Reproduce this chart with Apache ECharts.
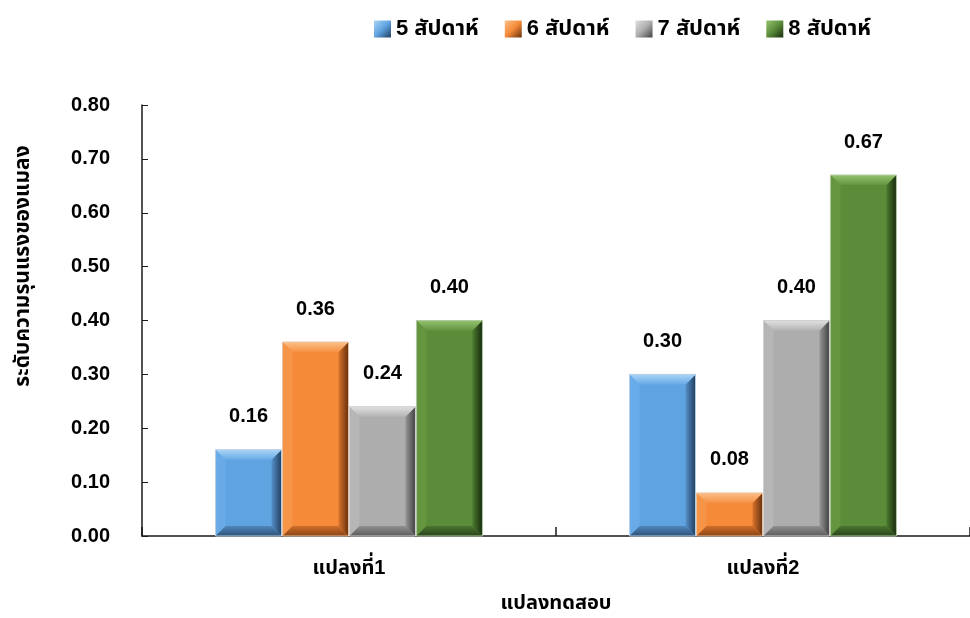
<!DOCTYPE html>
<html>
<head>
<meta charset="utf-8">
<script src="https://cdn.jsdelivr.net/npm/echarts@6/dist/echarts.min.js"></script>
<style>
  html, body { margin: 0; padding: 0; background: #fff; }
  #chart { width: 970px; height: 618px; }
</style>
</head>
<body>
<div id="chart"></div>
<script>
// Insect damage level by week, two test plots
const categories = ['แปลงที่1', 'แปลงที่2'];
const seriesNames = ['5 สัปดาห์', '6 สัปดาห์', '7 สัปดาห์', '8 สัปดาห์'];
const week5 = [0.16, 0.30];
const week6 = [0.36, 0.08];
const week7 = [0.24, 0.40];
const week8 = [0.40, 0.67];
const yTicks = [0, 0.1, 0.2, 0.3, 0.4, 0.5, 0.6, 0.7, 0.8];

const seriesValues = [week5, week6, week7, week8];
const FONT = '"Liberation Sans", Tahoma, "Noto Sans Thai", "Noto Sans", sans-serif';

// Bevelled bar palettes: face, top, left, right edge (inner, outer), bottom
const palettes = [
  { face: '#5fa3e0', top: ['#a9d4f7', '#68aae6'], left: '#69abe8', right: ['#5590c8', '#213f60'], bottom: ['#4f86ba', '#2e5378'], line: '#b9cfe3' },
  { face: '#f58a38', top: ['#fcc08a', '#f69144'], left: '#f69448', right: ['#d9732c', '#66310d'], bottom: ['#cf6e2a', '#8a4515'], line: '#e8c4a6' },
  { face: '#adadad', top: ['#e0e0e0', '#b4b4b4'], left: '#b6b6b6', right: ['#969696', '#414141'], bottom: ['#909090', '#5c5c5c'], line: '#d0d0d0' },
  { face: '#5b8c3a', top: ['#94c36e', '#62943f'], left: '#64953f', right: ['#4c7a2f', '#172a0d'], bottom: ['#4a7530', '#2a451a'], line: '#b3c8a4' }
];

const CAT_GAP = 0.353;
const N = seriesNames.length;
const BEVEL = 10;

function renderBar(si) {
  const pal = palettes[si];
  return function (params, api) {
    const cat = api.value(0);
    const val = api.value(1);
    const band = api.size([1, 0])[0];
    const groupW = band * (1 - CAT_GAP);
    const barW = groupW / N;
    const center = api.coord([cat, 0]);
    const topPt = api.coord([cat, val]);
    const x0 = center[0] - groupW / 2 + si * barW + 0.5;
    const x1 = x0 + barW - 1;
    const y0 = topPt[1];
    const y1 = center[1];
    const b = Math.min(BEVEL, (y1 - y0) / 3);
    const poly = (pts, fill) => ({ type: 'polygon', shape: { points: pts }, style: { fill: fill } });
    const vgrad = (c) => new echarts.graphic.LinearGradient(0, 0, 0, 1, [{ offset: 0, color: c[0] }, { offset: 1, color: c[1] }]);
    const hgrad = (c) => new echarts.graphic.LinearGradient(0, 0, 1, 0, [{ offset: 0, color: c[0] }, { offset: 1, color: c[1] }]);
    return {
      type: 'group',
      children: [
        { type: 'rect', shape: { x: x0, y: y0, width: x1 - x0, height: y1 - y0 }, style: { fill: pal.face } },
        poly([[x0, y0], [x0 + b, y0 + b], [x0 + b, y1 - b], [x0, y1]], pal.left),
        poly([[x1, y0], [x1, y1], [x1 - b, y1 - b], [x1 - b, y0 + b]], hgrad(pal.right)),
        poly([[x0, y1], [x0 + b, y1 - b], [x1 - b, y1 - b], [x1, y1]], vgrad(pal.bottom)),
        poly([[x0, y0], [x1, y0], [x1 - b, y0 + b], [x0 + b, y0 + b]], vgrad(pal.top)),
        { type: 'rect', shape: { x: x0, y: y0, width: x1 - x0, height: y1 - y0 }, style: { fill: null, stroke: pal.line, lineWidth: 1 } },
        {
          type: 'text', x: (x0 + x1) / 2, y: y0 - 33,
          style: { text: val.toFixed(2), align: 'center', verticalAlign: 'middle', font: 'bold 20px ' + FONT, fill: '#000' }
        }
      ]
    };
  };
}

const legendIcon = (pal) => new echarts.graphic.LinearGradient(0, 0, 1, 1, [
  { offset: 0, color: pal.top[0] }, { offset: 0.5, color: pal.face }, { offset: 1, color: pal.right[1] }
]);

const chart = echarts.init(document.getElementById('chart'), null, { renderer: 'canvas' });
chart.setOption({
  animation: false,
  backgroundColor: '#fff',
  textStyle: { fontFamily: FONT },
  legend: {
    top: 13, left: 369,
    itemWidth: 17, itemHeight: 17, itemGap: 26,
    textStyle: { fontSize: 22, fontWeight: 'bold', color: '#000', fontFamily: FONT },
    data: seriesNames.map((n, i) => ({ name: n, icon: 'rect', itemStyle: { color: legendIcon(palettes[i]) } }))
  },
  grid: { left: 142, right: -6, top: 105, bottom: 81, containLabel: false },
  xAxis: {
    type: 'category',
    data: categories,
    name: 'แปลงทดสอบ',
    nameLocation: 'middle',
    nameGap: 57,
    nameTextStyle: { fontSize: 20, fontWeight: 'bold', color: '#000', fontFamily: FONT },
    axisLine: { lineStyle: { color: '#1a1a1a', width: 1.5 } },
    axisTick: { show: true, inside: true, length: 9, alignWithLabel: false, lineStyle: { color: '#1a1a1a', width: 1.5 } },
    axisLabel: { margin: 22, fontSize: 20, fontWeight: 'bold', color: '#000', fontFamily: FONT }
  },
  yAxis: {
    type: 'value',
    min: 0, max: 0.8, interval: 0.1,
    splitLine: { show: false },
    axisLine: { show: true, lineStyle: { color: '#1a1a1a', width: 1.5 } },
    axisTick: { show: true, inside: true, length: 6, lineStyle: { color: '#1a1a1a' } },
    axisLabel: {
      margin: 32, fontSize: 20, fontWeight: 'bold', color: '#000', fontFamily: FONT,
      formatter: (v) => {
        const t = yTicks.find((k) => Math.abs(k - v) < 1e-9);
        return (t === undefined ? v : t).toFixed(2);
      }
    }
  },
  graphic: [{
    type: 'text', x: 23, y: 266, rotation: Math.PI / 2,
    style: { text: 'ระดับความรุนแรงของแมลง', align: 'center', verticalAlign: 'middle', font: 'bold 21px ' + FONT, fill: '#000' }
  }],
  series: seriesNames.map((n, i) => ({
    name: n,
    type: 'custom',
    renderItem: renderBar(i),
    encode: { x: 0, y: 1 },
    data: categories.map((c, ci) => [ci, seriesValues[i][ci]])
  }))
});
</script>
</body>
</html>
